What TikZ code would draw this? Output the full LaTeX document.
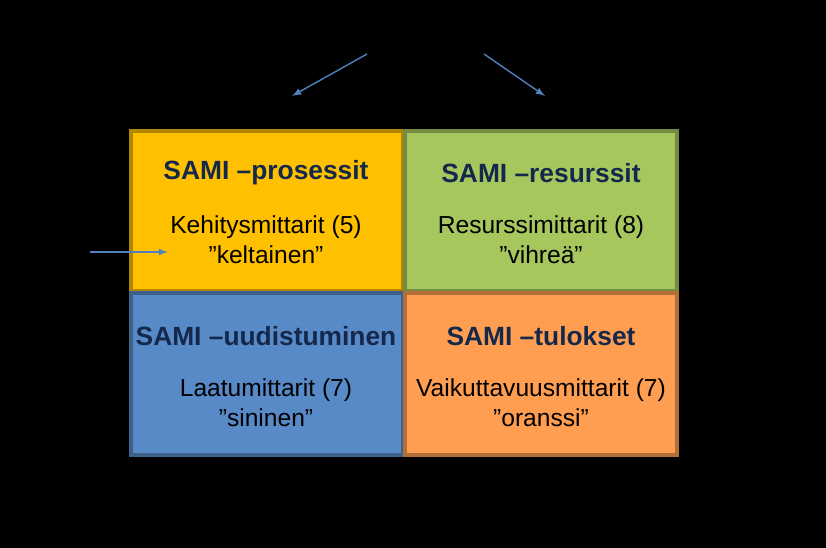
\documentclass[tikz,border=0pt]{standalone}
\usepackage{fontspec}
\setmainfont{Liberation Sans}
\definecolor{keltainen}{RGB}{255,192,0}
\definecolor{vihrea}{RGB}{166,198,94}
\definecolor{sininen}{RGB}{88,138,200}
\definecolor{oranssi}{RGB}{255,158,80}
\definecolor{nuoli}{RGB}{79,129,189}
\definecolor{otsikko}{RGB}{20,40,75}
\begin{document}
\begin{tikzpicture}[x=0.02cm,y=-0.02cm,
    ruutu/.style={draw=#1!70!black, line width=2.5pt, fill=#1},
    otsikko/.style={font=\bfseries\fontsize{15}{18}\selectfont, text=otsikko},
    teksti/.style={font=\fontsize{14}{17}\selectfont, align=center},
    nuoli/.style={draw=nuoli, thick, -latex}]
        % Background.
        \fill[black] (0,0) rectangle (826,548);
        
        % Boxes.
        \draw[ruutu=keltainen] (131,131) rectangle (403,291);
        \draw[ruutu=vihrea] (405,131) rectangle (677,291);
        \draw[ruutu=sininen] (131,293) rectangle (403,455);
        \draw[ruutu=oranssi] (405,293) rectangle (677,455);
        
        \node[otsikko] (prosessit) at (266,173) {SAMI –prosessit};
        \node[teksti] (kehitys) at (266,240) {Kehitysmittarit (5)\\”keltainen”};
        \node[otsikko] (resurssit) at (541,173) {SAMI –resurssit};
        \node[teksti] (resurssi) at (541,240) {Resurssimittarit (8)\\”vihreä”};
        \node[otsikko] (uudistuminen) at (266,336) {SAMI –uudistuminen};
        \node[teksti] (laatu) at (266,403) {Laatumittarit (7)\\”sininen”};
        \node[otsikko] (tulokset) at (541,336) {SAMI –tulokset};
        \node[teksti] (vaikutus) at (541,403) {Vaikuttavuusmittarit (7)\\”oranssi”};
        
        % Arrows.
        \coordinate (v1) at (367,54);
        \coordinate (v2) at (292,96);
        \coordinate (o1) at (484,54);
        \coordinate (o2) at (545,96);
        \coordinate (s1) at (90,252);
        \coordinate (s2) at (168,252);
        \draw[nuoli] (v1) -- (v2);
        \draw[nuoli] (o1) -- (o2);
        \draw[nuoli] (s1) -- (s2);
    \end{tikzpicture}
\end{document}
